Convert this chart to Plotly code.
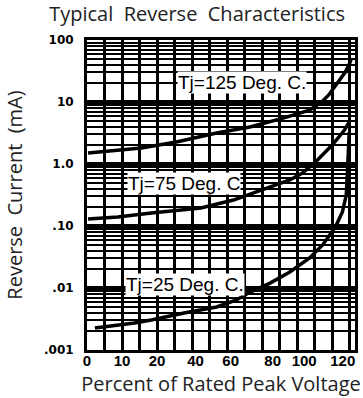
import numpy as np
import plotly.graph_objects as go

# X axis is drawn in chart-grid divisions (the scanned chart's labels are not evenly spaced)
x_tick_pos = [0, 2, 4, 6.2, 8.2, 10.6, 12.4, 14.6]
x_tick_labels = ["0", "10", "20", "40", "60", "80", "100", "120"]

y_tick_vals = [0.001, 0.01, 0.1, 1, 10, 100]
y_tick_labels = [".001", ".01", ".10", "1.0", "10", "100"]

# Tj = 125 Deg. C
x_125 = [0.06, 3.1, 5.1, 7.4, 9.3, 11.2, 12.7, 13.4, 13.8, 14.2, 14.75, 15.0, 15.1]
y_125 = [1.50, 1.81, 2.26, 3.16, 3.95, 5.5, 7.4, 10.0, 13.0, 18.8, 30.5, 42.5, 51.0]

# Tj = 75 Deg. C
x_75 = [0.06, 1.75, 3.67, 5.54, 6.5, 8.36, 9.66, 10.45, 11.58, 12.3, 13.16, 14.0, 14.7, 15.03]
y_75 = [0.130, 0.140, 0.162, 0.181, 0.195, 0.262, 0.353, 0.426, 0.552, 0.716, 1.16, 2.02, 3.53, 5.1]

# Tj = 25 Deg. C
x_25 = [0.45, 2.71, 3.67, 5.54, 7.4, 8.53, 9.32, 10.45, 11.58, 12.71, 13.45, 14.18, 14.58, 14.8, 14.86, 14.92, 14.97]
y_25 = [0.00226, 0.00272, 0.00305, 0.00395, 0.00494, 0.0064, 0.0086, 0.0120, 0.0181, 0.0305,
        0.0494, 0.0964, 0.168, 0.316, 0.665, 1.68, 3.28]

curve_labels = ["Tj=125 Deg. C.", "Tj=75 Deg. C", "Tj=25 Deg. C."]
label_x = [8.87, 5.54, 5.6]
label_y = [21.0, 0.49, 0.0116]

minor_vals = [m * 10 ** e for e in range(-3, 2) for m in range(2, 10)]

fig = go.Figure()
for xs, ys in [(x_125, y_125), (x_75, y_75), (x_25, y_25)]:
    fig.add_trace(go.Scatter(x=xs, y=ys, mode="lines",
                             line=dict(color="black", width=3.5),
                             showlegend=False, hoverinfo="skip"))

for t, lx, ly in zip(curve_labels, label_x, label_y):
    fig.add_annotation(x=lx, y=float(np.log10(ly)), yref="y", xref="x", text=t,
                       showarrow=False,
                       font=dict(family="Liberation Sans", size=19, color="black"),
                       bgcolor="white", borderpad=0)

title_font = dict(family="Open Sans", size=20, color="#222")

fig.update_layout(
    width=363, height=398,
    margin=dict(l=87, r=5, t=40, b=48),
    paper_bgcolor="white", plot_bgcolor="white",
    title=dict(text="Typical  Reverse  Characteristics", x=0.543, xanchor="center",
               y=1 - 14 / 398, yref="container", yanchor="middle", font=title_font),
    xaxis=dict(range=[0, 15.3], tickmode="linear", tick0=0, dtick=1,
               showticklabels=False, showgrid=True, gridcolor="black", gridwidth=2.5,
               zeroline=False, showline=True, linecolor="black", linewidth=3, mirror=True,
               title=dict(text="Percent of Rated Peak Voltage", standoff=25,
                          font=title_font)),
    xaxis2=dict(range=[0, 15.3], overlaying="x", side="bottom", matches="x",
                tickmode="array", tickvals=x_tick_pos, ticktext=x_tick_labels,
                showgrid=False, zeroline=False, ticks="",
                tickfont=dict(family="Liberation Sans", size=15, color="black", weight="bold")),
    yaxis=dict(type="log", range=[-3, 2], tickmode="array", tickvals=y_tick_vals,
               ticktext=y_tick_labels, showgrid=True, gridcolor="black", gridwidth=4,
               ticks="", ticklabelstandoff=8,
               tickfont=dict(family="DejaVu Sans", size=12, color="black", weight="bold"),
               minor=dict(tickmode="array", tickvals=minor_vals, showgrid=True,
                          gridcolor="black", gridwidth=1.8),
               zeroline=False, showline=True, linecolor="black", linewidth=3, mirror=True,
               title=dict(text="Reverse  Current  (mA)", standoff=16, font=title_font)),
)
fig.add_trace(go.Scatter(x=[], y=[], xaxis="x2", yaxis="y", showlegend=False))

fig.write_html("out.html", config={"displayModeBar": False},
               post_script="document.body.style.margin='0';")
